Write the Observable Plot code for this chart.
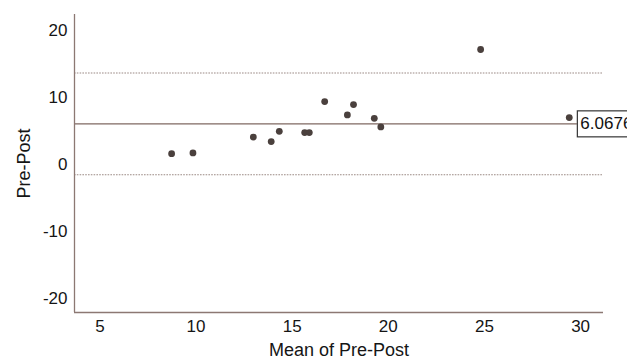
<!DOCTYPE html>
<html>
<head>
<meta charset="utf-8">
<script src="https://cdn.jsdelivr.net/npm/d3@7"></script>
<script src="https://cdn.jsdelivr.net/npm/@observablehq/plot@0.6"></script>
<style>
  html, body { margin: 0; padding: 0; background: #fff; }
  svg { font-family: "Liberation Sans", Arial, sans-serif; }
</style>
</head>
<body>
<div id="chart"></div>
<script>
// Bland-Altman data: mean of Pre & Post (x) vs Pre-Post difference (y)
const meanValues = [8.73, 9.84, 12.98, 13.91, 14.33, 15.65, 15.89, 16.69, 17.87, 18.19, 19.27, 19.61, 24.80, 29.41];
const diffValues = [1.63, 1.74, 4.10, 3.43, 4.96, 4.77, 4.77, 9.40, 7.41, 8.95, 6.90, 5.62, 17.16, 7.01];
const meanDiff = 6.0676;
const upperLoA = 13.65;
const lowerLoA = -1.51;
const xTicks = [5, 10, 15, 20, 25, 30];
const yTicks = [-20, -10, 0, 10, 20];
const xDomain = [3.68, 31.19];
const yDomain = [-22.05, 22.38];
const meanLabelX = 29.83; // where the mean line meets its label box

const points = meanValues.map((m, i) => ({mean: m, diff: diffValues[i]}));

const axisColor = "#8c7873";
const chart = Plot.plot({
  width: 627,
  height: 359,
  marginLeft: 74,
  marginRight: 24,
  marginTop: 14,
  marginBottom: 47,
  style: {fontFamily: '"Liberation Sans", Arial, sans-serif', background: "#fff", color: "#151515"},
  x: {domain: xDomain},
  y: {domain: yDomain},
  marks: [
    Plot.ruleY([upperLoA, lowerLoA], {stroke: "#9c8a85", strokeWidth: 1.1, strokeDasharray: "1.6,1.2"}),
    Plot.ruleY([meanDiff], {x1: xDomain[0], x2: meanLabelX, stroke: "#7f6862", strokeWidth: 1.4}),
    Plot.ruleX([xDomain[0]], {stroke: axisColor, strokeWidth: 1.3}),
    Plot.ruleY([yDomain[0]], {stroke: axisColor, strokeWidth: 1.3}),
    Plot.dot(points, {x: "mean", y: "diff", r: 3.4, fill: "#4a403d", stroke: "none"}),
    Plot.text([meanDiff], {x: meanLabelX, y: d => d, text: d => d.toFixed(4), textAnchor: "start", dx: 3, fontSize: 17, fill: "#111"}),
    Plot.axisX({ticks: xTicks, tickFormat: d => String(d), tickSize: 0, tickPadding: 7, fontSize: 17, label: "Mean of Pre-Post", labelAnchor: "center", labelOffset: 43, labelArrow: "none"}),
    Plot.axisY({ticks: yTicks, tickFormat: d => String(d), tickSize: 0, tickPadding: 7, fontSize: 17, label: "Pre-Post", labelAnchor: "center", labelOffset: 57, labelArrow: "none"})
  ]
});
document.getElementById("chart").append(chart);

// Draw the boxed label around the mean value text
const svg = d3.select(chart.tagName === "svg" ? chart : chart.querySelector("svg"));
svg.selectAll('g[aria-label="text"] text').each(function() {
  const bb = this.getBBox();
  const r = document.createElementNS("http://www.w3.org/2000/svg", "rect");
  r.setAttribute("x", bb.x - 3);
  r.setAttribute("y", bb.y - 3.5);
  r.setAttribute("width", bb.width + 8);
  r.setAttribute("height", bb.height + 7);
  r.setAttribute("fill", "#fff");
  r.setAttribute("stroke", "#333");
  r.setAttribute("stroke-width", "1.2");
  const t = this.getAttribute("transform");
  if (t) r.setAttribute("transform", t);
  this.parentNode.insertBefore(r, this);
});
// Axis label font size
svg.selectAll('g[aria-label="x-axis label"] text, g[aria-label="y-axis label"] text').attr("font-size", 18);
</script>
</body>
</html>
